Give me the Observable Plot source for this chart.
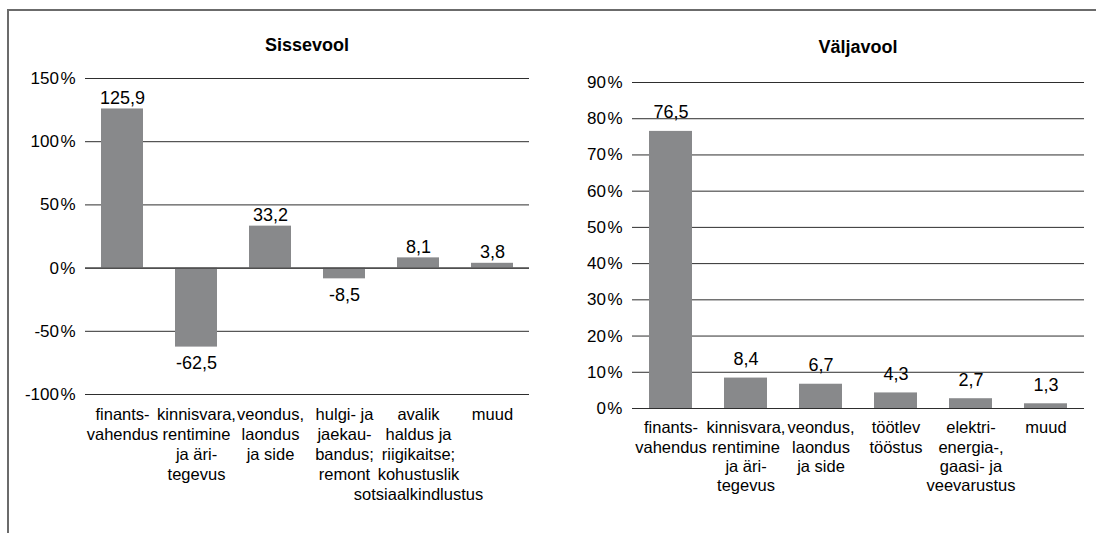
<!DOCTYPE html>
<html><head><meta charset="utf-8">
<script src="https://cdn.jsdelivr.net/npm/d3@7"></script>
<script src="https://cdn.jsdelivr.net/npm/@observablehq/plot@0.6"></script>
<style>
body{margin:0;background:#fff;font-family:"Liberation Sans",Arial,sans-serif;}
#wrap{position:relative;width:1096px;height:533px;overflow:hidden;background:#fff;}
#frame{position:absolute;left:7px;top:9px;width:1200px;height:600px;border-top:2px solid #6b6b6b;border-left:2px solid #6b6b6b;}
.title{position:absolute;font-weight:bold;font-size:18px;white-space:nowrap;transform:translate(-50%,-50%);color:#000;}
.chart{position:absolute;top:0;}
</style></head><body>
<div id="wrap"><div id="frame"></div>
<div class="title" style="left:307px;top:45px">Sissevool</div>
<div class="title" style="left:858px;top:47px">Väljavool</div>
<div id="left" class="chart" style="left:0"></div>
<div id="right" class="chart" style="left:545px"></div>
</div>
<script>
const inflowCategories = [
  "finants-\nvahendus",
  "kinnisvara,\nrentimine\nja äri-\ntegevus",
  "veondus,\nlaondus\nja side",
  "hulgi- ja\njaekau-\nbandus;\nremont",
  "avalik\nhaldus ja\nriigikaitse;\nkohustuslik\nsotsiaalkindlustus",
  "muud"
];
const inflowValues = [125.9, -62.5, 33.2, -8.5, 8.1, 3.8];
const inflowTicks = [-100, -50, 0, 50, 100, 150];

const outflowCategories = [
  "finants-\nvahendus",
  "kinnisvara,\nrentimine\nja äri-\ntegevus",
  "veondus,\nlaondus\nja side",
  "töötlev\ntööstus",
  "elektri-\nenergia-,\ngaasi- ja\nveevarustus",
  "muud"
];
const outflowValues = [76.5, 8.4, 6.7, 4.3, 2.7, 1.3];
const outflowTicks = [0, 10, 20, 30, 40, 50, 60, 70, 80, 90];

const fmt = v => v.toFixed(1).replace(".", ",");

function chart({cats, vals, ticks, width, marginLeft, marginRight, marginTop, marginBottom, posDy, negDy, lineHeight}) {
  const data = cats.map((c, i) => ({c, v: vals[i]}));
  return Plot.plot({
    width, height: 533, marginLeft, marginRight, marginTop, marginBottom,
    style: {fontFamily: "'Liberation Sans', Arial, sans-serif", background: "transparent", color: "#000"},
    x: {domain: cats, paddingInner: 0.432, paddingOuter: 0.216, label: null},
    y: {domain: [ticks[0], ticks[ticks.length - 1]], label: null},
    marks: [
      Plot.ruleY(ticks, {stroke: "#2e2e2e", strokeWidth: 1}),
      Plot.barY(data, {x: "c", y: "v", fill: "#88898b"}),
      Plot.ruleY([0], {stroke: "#2e2e2e", strokeWidth: 1}),
      Plot.text(data.filter(d => d.v >= 0), {x: "c", y: "v", text: d => fmt(d.v), lineAnchor: "bottom", dy: posDy, fontSize: 18, fill: "#000"}),
      Plot.text(data.filter(d => d.v < 0), {x: "c", y: "v", text: d => fmt(d.v), lineAnchor: "top", dy: negDy, fontSize: 18, fill: "#000"}),
      Plot.axisY({ticks, tickFormat: d => d + "\u200A%", tickSize: 0, tickPadding: 10, fontSize: 17, label: null}),
      Plot.axisX({tickSize: 0, tickPadding: 11, fontSize: 16.5, lineHeight, label: null, tickFormat: d => d})
    ]
  });
}

document.getElementById("left").append(chart({
  cats: inflowCategories, vals: inflowValues, ticks: inflowTicks,
  width: 545, marginLeft: 85, marginRight: 16, marginTop: 78, marginBottom: 139,
  posDy: -5, negDy: 9, lineHeight: 1.22
}));
document.getElementById("right").append(chart({
  cats: outflowCategories, vals: outflowValues, ticks: outflowTicks,
  width: 551, marginLeft: 87, marginRight: 12, marginTop: 82, marginBottom: 125,
  posDy: -13, negDy: 9, lineHeight: 1.17
}));
</script>
</body></html>
